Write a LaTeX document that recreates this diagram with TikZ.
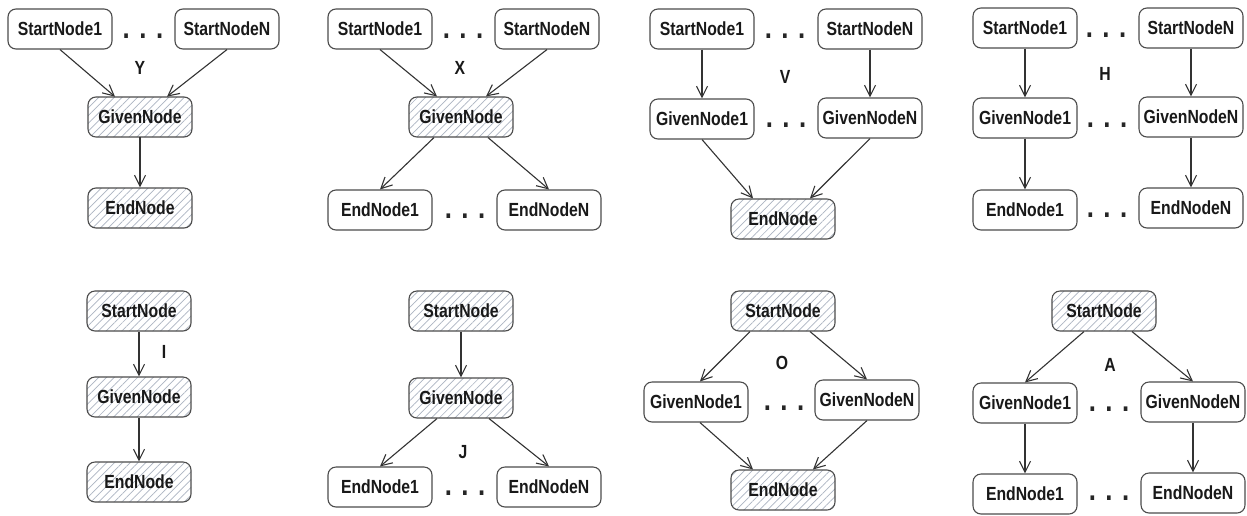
\documentclass[tikz,border=0pt]{standalone}
\usepackage{fontspec}
\setmainfont{Liberation Sans}[FakeStretch=0.83]
\usetikzlibrary{arrows.meta,patterns.meta}
\definecolor{hatchgray}{RGB}{172,180,194}

\begin{document}
\begin{tikzpicture}[x=1pt,y=-1pt,
  box/.style={draw=black!70, line width=1.1pt, rounded corners=8pt,
    minimum width=104pt, minimum height=40pt, inner sep=0pt, fill=white,
    font=\fontsize{19}{20}\selectfont\bfseries, text=black!90},
  hatched/.style={box, fill=none,
    pattern={Lines[angle=45,distance=5.5pt,line width=0.7pt]},
    pattern color=hatchgray},
  dots/.style={anchor=base, inner sep=0pt,
    font=\fontsize{31}{31}\selectfont\bfseries, text=black!85},
  tag/.style={inner sep=0pt, font=\fontsize{19}{20}\selectfont\bfseries, text=black!90},
  link/.style={draw=black!80, line width=1.1pt,
    -{Straight Barb[length=11pt,width=11pt,line width=1.1pt]}}]

% canvas
\fill[white] (0,0) rectangle (1247,515);
\useasboundingbox (0,0) rectangle (1247,515);

% ---------- Y ----------
\node[box]     (ys1) at (60,29)   {StartNode1};
\node[box]     (ysN) at (227,29)  {StartNodeN};
\node[dots]    (yd)  at (143,38)  {. . .};
\node[tag]     (yl)  at (140,68)  {Y};
\node[hatched] (yg)  at (140,117) {GivenNode};
\node[hatched] (ye)  at (140,208) {EndNode};
\draw[link] (ys1.south) -- ([xshift=-25pt]yg.north);
\draw[link] (ysN.south) -- ([xshift=27pt]yg.north);
\draw[link] (yg) -- (ye);

% ---------- X ----------
\node[box]     (xs1) at (380,29)  {StartNode1};
\node[box]     (xsN) at (547,29)  {StartNodeN};
\node[dots]    (xd1) at (463,38)  {. . .};
\node[tag]     (xl)  at (460,68)  {X};
\node[hatched] (xg)  at (461,117) {GivenNode};
\node[box]     (xe1) at (380,210) {EndNode1};
\node[box]     (xeN) at (549,210) {EndNodeN};
\node[dots]    (xd2) at (465,218) {. . .};
\draw[link] (xs1.south) -- ([xshift=-24pt]xg.north);
\draw[link] (xsN.south) -- ([xshift=25pt]xg.north);
\draw[link] ([xshift=-27pt]xg.south) -- (xe1.north);
\draw[link] ([xshift=27pt]xg.south) -- (xeN.north);

% ---------- V ----------
\node[box]     (vs1) at (702,29)  {StartNode1};
\node[box]     (vsN) at (870,29)  {StartNodeN};
\node[dots]    (vd1) at (785,38)  {. . .};
\node[tag]     (vl)  at (785,77)  {V};
\node[box]     (vg1) at (702,119) {GivenNode1};
\node[box]     (vgN) at (870,118) {GivenNodeN};
\node[dots]    (vd2) at (786,127) {. . .};
\node[hatched] (ve)  at (783,219) {EndNode};
\draw[link] (vs1) -- (vg1);
\draw[link] (vsN) -- (vgN);
\draw[link] (vg1.south) -- ([xshift=-30pt]ve.north);
\draw[link] (vgN.south) -- ([xshift=27pt]ve.north);

% ---------- H ----------
\node[box]  (hs1) at (1025,28)  {StartNode1};
\node[box]  (hsN) at (1191,28)  {StartNodeN};
\node[dots] (hd1) at (1106,37)  {. . .};
\node[tag]  (hl)  at (1105,74)  {H};
\node[box]  (hg1) at (1025,118) {GivenNode1};
\node[box]  (hgN) at (1191,117) {GivenNodeN};
\node[dots] (hd2) at (1107,127) {. . .};
\node[box]  (he1) at (1025,210) {EndNode1};
\node[box]  (heN) at (1191,208) {EndNodeN};
\node[dots] (hd3) at (1107,217) {. . .};
\draw[link] (hs1) -- (hg1);
\draw[link] (hsN) -- (hgN);
\draw[link] (hg1) -- (he1);
\draw[link] (hgN) -- (heN);

% ---------- I ----------
\node[hatched] (is) at (139,311) {StartNode};
\node[tag]     (il) at (164,352) {I};
\node[hatched] (ig) at (139,397) {GivenNode};
\node[hatched] (ie) at (139,482) {EndNode};
\draw[link] (is) -- (ig);
\draw[link] (ig) -- (ie);

% ---------- J ----------
\node[hatched] (js)  at (461,311) {StartNode};
\node[hatched] (jg)  at (461,398) {GivenNode};
\node[tag]     (jl)  at (463,452) {J};
\node[box]     (je1) at (380,487) {EndNode1};
\node[box]     (jeN) at (549,487) {EndNodeN};
\node[dots]    (jd)  at (465,495) {. . .};
\draw[link] (js) -- (jg);
\draw[link] ([xshift=-24pt]jg.south) -- (je1.north);
\draw[link] ([xshift=28pt]jg.south) -- (jeN.north);

% ---------- O ----------
\node[hatched] (os)  at (783,311) {StartNode};
\node[tag]     (ol)  at (782,363) {O};
\node[box]     (og1) at (696,402) {GivenNode1};
\node[box]     (ogN) at (867,400) {GivenNodeN};
\node[dots]    (od)  at (784,410) {. . .};
\node[hatched] (oe)  at (783,490) {EndNode};
\draw[link] ([xshift=-33pt]os.south) -- ([xshift=4pt]og1.north);
\draw[link] ([xshift=27pt]os.south) -- (ogN.north);
\draw[link] ([xshift=4pt]og1.south) -- ([xshift=-30pt]oe.north);
\draw[link] (ogN.south) -- ([xshift=30pt]oe.north);

% ---------- A ----------
\node[hatched] (as)  at (1104,311) {StartNode};
\node[tag]     (al)  at (1110,365) {A};
\node[box]     (ag1) at (1025,403) {GivenNode1};
\node[box]     (agN) at (1193,402) {GivenNodeN};
\node[dots]    (ad1) at (1109,411) {. . .};
\node[box]     (ae1) at (1025,494) {EndNode1};
\node[box]     (aeN) at (1193,493) {EndNodeN};
\node[dots]    (ad2) at (1109,500) {. . .};
\draw[link] ([xshift=-20pt]as.south) -- (ag1.north);
\draw[link] ([xshift=28pt]as.south) -- (agN.north);
\draw[link] (ag1) -- (ae1);
\draw[link] (agN) -- (aeN);
\end{tikzpicture}
\end{document}
